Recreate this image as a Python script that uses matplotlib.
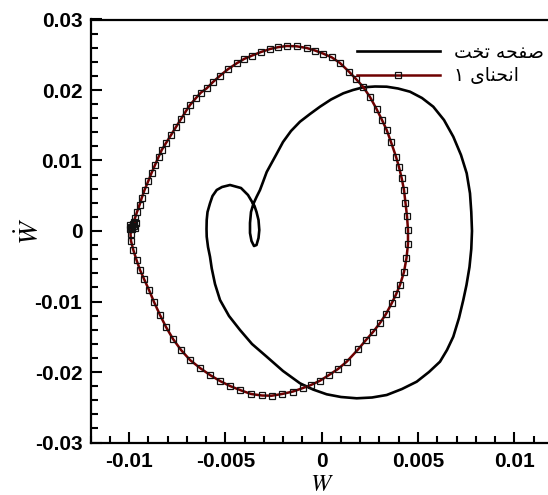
import numpy as np
import matplotlib
matplotlib.use("Agg")
import matplotlib.pyplot as plt
from matplotlib.ticker import MultipleLocator, FuncFormatter

plt.rcParams['mathtext.fontset'] = 'stix'

# flat plate (black), values in units of 1e-3
flat_w = [-3.551, -3.827, -4.190, -4.761, -5.176, -5.452, -5.670, -5.800, -5.929, -5.971,
          -5.981, -5.971, -5.903, -5.800, -5.711, -5.540, -5.280, -4.813, -4.242, -3.619,
          -2.856, -2.009, -1.127, -0.452, 0.260, 1.002, 1.817, 2.612, 3.375, 4.169,
          4.932, 5.571, 6.142, 6.506, 6.833, 7.129, 7.352, 7.518, 7.674, 7.767,
          7.804, 7.767, 7.700, 7.529, 7.233, 6.833, 6.350, 5.794, 5.208, 4.585,
          3.962, 3.375, 2.767, 2.160, 1.625, 1.122, 0.483, -0.088, -0.607, -1.127,
          -1.594, -2.009, -2.373, -2.658, -2.856, -3.048, -3.204, -3.385, -3.551, -3.671,
          -3.723, -3.723, -3.645, -3.515, -3.385, -3.281, -3.240, -3.281, -3.385, -3.489,
          -3.551]
flat_wdot = [3.830, 5.106, 6.099, 6.525, 6.241, 5.815, 4.964, 3.929, 2.695, 1.560,
             0.284, -0.808, -2.269, -3.645, -5.291, -7.518, -9.787, -12.057, -14.043, -16.028,
             -17.830, -19.858, -21.603, -22.482, -23.163, -23.546, -23.730, -23.617, -23.262, -22.411,
             -21.376, -20.000, -18.539, -16.879, -14.993, -12.340, -9.787, -7.660, -5.106, -2.553,
             0.000, 2.695, 5.348, 8.184, 10.780, 13.376, 15.745, 17.631, 18.865, 19.759,
             20.213, 20.468, 20.496, 20.383, 20.000, 19.532, 18.652, 17.631, 16.596, 15.504,
             14.184, 12.624, 10.780, 9.362, 8.369, 6.950, 5.815, 4.823, 3.830, 2.695,
             1.135, -0.284, -1.418, -2.128, -1.986, -0.993, 0.142, 1.560, 2.695, 3.546,
             3.830]

# curvature 1 (dark red with markers), values in units of 1e-3
curv_w = [-9.700, -9.950, -9.800, -9.950, -9.750, -9.900, -9.650, -9.834, -9.771, -9.693,
          -9.590, -9.460, -9.346, -9.200, -9.003, -8.837, -8.655, -8.473, -8.307, -8.084,
          -7.824, -7.565, -7.305, -7.046, -6.838, -6.526, -6.267, -5.971, -5.644, -5.280,
          -4.865, -4.413, -4.034, -3.634, -3.152, -2.684, -2.269, -1.817, -1.298, -0.779,
          -0.348, 0.067, 0.519, 0.950, 1.417, 1.781, 2.144, 2.508, 2.856, 3.131,
          3.375, 3.598, 3.858, 4.013, 4.154, 4.273, 4.351, 4.429, 4.481, 4.481,
          4.403, 4.273, 4.065, 3.858, 3.634, 3.338, 3.027, 2.679, 2.300, 1.885,
          1.298, 0.846, 0.379, -0.088, -0.556, -0.971, -1.490, -2.061, -2.596, -3.100,
          -3.671, -4.242, -4.761, -5.280, -5.800, -6.319, -6.838, -7.305, -7.721, -8.084,
          -8.396, -8.707, -8.967, -9.226, -9.434, -9.616, -9.782, -9.901, -9.927, -9.875,
          -9.834]
curv_wdot = [0.400, 0.850, 1.000, 0.300, 0.700, 0.550, 1.150, 0.610, 1.277, 1.844,
             2.695, 3.688, 4.681, 5.815, 7.092, 8.227, 9.361, 10.496, 11.489, 12.482,
             13.617, 14.752, 15.886, 17.021, 17.872, 18.865, 19.645, 20.241, 21.134, 22.028,
             22.950, 23.787, 24.397, 24.865, 25.389, 25.815, 26.070, 26.240, 26.198, 25.957,
             25.602, 25.177, 24.638, 23.829, 22.596, 21.560, 20.468, 19.007, 17.262, 15.744,
             14.326, 12.624, 10.539, 9.078, 7.475, 5.815, 3.972, 2.128, 0.142, -1.844,
             -3.830, -5.816, -7.660, -9.007, -10.255, -11.773, -13.049, -14.284, -15.461, -16.808,
             -18.539, -19.574, -20.426, -21.234, -21.844, -22.270, -22.766, -23.121, -23.362, -23.333,
             -23.121, -22.553, -21.986, -21.277, -20.426, -19.433, -18.298, -16.879, -15.319, -13.617,
             -11.915, -10.071, -8.369, -6.809, -5.532, -4.113, -2.695, -1.418, -0.426, 0.284,
             0.610]

# Persian labels written in presentation forms, visual order
label_flat = "\uFE96\uFEA8\uFE97 \uFEEA\uFEA4\uFED4\uFEBB"      # صفحه تخت
label_curv = "\u06F1 \uFBFC\uFE8E\uFEE8\uFEA4\uFEE7\uFE8D"      # انحنای ۱

fig = plt.figure(figsize=(5.48, 4.95), dpi=100)
ax = fig.add_axes([90.6 / 548, 52.5 / 495, 462.2 / 548, 423 / 495])

ax.plot(np.array(flat_w) * 1e-3, np.array(flat_wdot) * 1e-3, color='black', lw=1.9,
        label=label_flat, solid_joinstyle='round')
ax.plot(np.array(curv_w) * 1e-3, np.array(curv_wdot) * 1e-3, color='#6e0000', lw=1.8,
        marker='s', ms=3.8, mfc='none', mec='#111111', mew=0.9, label=label_curv)

ax.set_xlim(-0.012, 0.012)
ax.set_ylim(-0.03, 0.03)
ax.xaxis.set_major_locator(MultipleLocator(0.005))
ax.xaxis.set_minor_locator(MultipleLocator(0.001))
ax.yaxis.set_major_locator(MultipleLocator(0.01))
ax.yaxis.set_minor_locator(MultipleLocator(0.002))
fmt = FuncFormatter(lambda v, p: "0" if abs(v) < 1e-12 else ("%g" % round(v, 6)))
ax.xaxis.set_major_formatter(fmt)
ax.yaxis.set_major_formatter(fmt)

ax.tick_params(which='both', direction='in', top=False, right=False, width=1.5)
ax.tick_params(which='major', length=8, labelsize=15, pad=6)
ax.tick_params(axis='x', which='major', pad=7)
ax.tick_params(which='minor', length=5)
for lab in ax.get_xticklabels() + ax.get_yticklabels():
    lab.set_fontfamily('Liberation Sans')
    lab.set_fontweight('bold')
for s in ax.spines.values():
    s.set_linewidth(1.6)

ax.set_xlabel(r"$W$", fontsize=17.5)
ax.set_ylabel(r"$\dot{W}$", fontsize=20)
ax.xaxis.set_label_coords(0.5, -0.0695)
ax.yaxis.set_label_coords(-0.098, 0.5)

leg = ax.legend(loc='upper left', bbox_to_anchor=(357 / 548, 1 - 43 / 495),
                bbox_transform=fig.transFigure, frameon=False, borderpad=0,
                borderaxespad=0, handlelength=4.4, handletextpad=0.75,
                labelspacing=0.22, prop={'family': 'DejaVu Sans', 'size': 13.5})

fig.savefig("out.png", dpi=100)
